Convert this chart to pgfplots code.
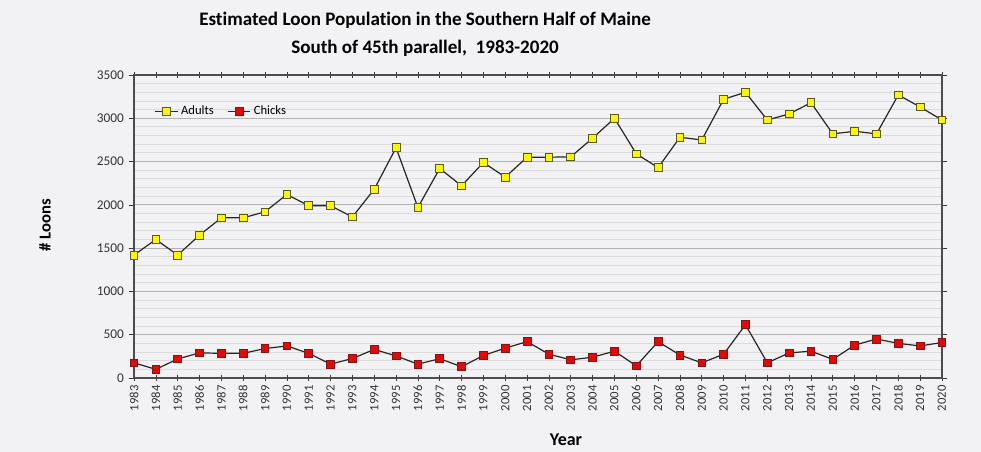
\documentclass[border=0pt]{standalone}
\usepackage{fontspec}
\setmainfont[Ligatures=NoCommon]{Carlito}
\usepackage{pgfplots}
\pgfplotsset{compat=1.18}
\definecolor{bg}{RGB}{242,242,244}
\definecolor{adultfill}{RGB}{250,245,10}
\definecolor{adultdraw}{RGB}{90,90,20}
\definecolor{chickfill}{RGB}{225,10,10}
\definecolor{chickdraw}{RGB}{130,20,20}
\begin{document}
\begin{tikzpicture}[x=1pt,y=1pt]
\fill[bg] (0,0) rectangle (735.75,339);
\useasboundingbox (0,0) rectangle (735.75,339);
\node[font=\fontsize{14.3}{16}\selectfont\bfseries] at (318.75,323.5) {Estimated Loon Population in the Southern Half of Maine};
\node[font=\fontsize{14.3}{16}\selectfont\bfseries] at (318.75,302.5) {South of 45th parallel,\ \ 1983-2020};
\node[font=\fontsize{12.5}{14}\selectfont\bfseries, rotate=90] at (33.75,170) {\# Loons};
\node[font=\fontsize{13.5}{15}\selectfont\bfseries] at (424.5,9) {Year};
\begin{axis}[
  at={(100.5pt,55.5pt)}, anchor=south west,
  scale only axis, width=606pt, height=227.25pt,
  xmin=1983, xmax=2020, ymin=0, ymax=3500,
  xtick={1983,...,2020},
  ytick={0,500,...,3500},
  minor y tick num=4,
  ymajorgrids, yminorgrids,
  major grid style={gray!60, line width=0.7pt},
  minor grid style={gray!28, line width=0.7pt},
  axis line style={gray!60!black, line width=0.8pt},
  x tick style={gray!40!black, line width=0.5pt},
  y tick style={gray!40!black, line width=0.5pt},
  xtick align=center, ytick align=outside,
  major tick length=4pt,
  minor y tick style={draw=none},
  /pgf/number format/assume math mode=true,
  /pgf/number format/1000 sep={},
  x tick label style={rotate=90, anchor=east, font=\fontsize{9.5}{11}\selectfont, text=black!80},
  y tick label style={font=\fontsize{10}{12}\selectfont, text=black!80},
  axis background/.style={fill=bg},
  legend style={at={(0.02,0.88)}, anchor=west, draw=none, fill=none, font=\fontsize{9.5}{11}\selectfont, legend columns=2, /tikz/every even column/.append style={column sep=8pt}},
  legend cell align=left,
]
\addplot[black!85, line width=0.9pt, mark=square*, mark size=2.9pt, mark options={fill=adultfill, draw=adultdraw, line width=0.6pt}] coordinates {
(1983,1420) (1984,1600) (1985,1420) (1986,1650) (1987,1850) (1988,1850) (1989,1920) (1990,2120)
(1991,1990) (1992,1990) (1993,1860) (1994,2180) (1995,2660) (1996,1970) (1997,2420) (1998,2220)
(1999,2490) (2000,2320) (2001,2550) (2002,2550) (2003,2555) (2004,2770) (2005,3000) (2006,2590)
(2007,2430) (2008,2780) (2009,2750) (2010,3220) (2011,3300) (2012,2980) (2013,3050) (2014,3180)
(2015,2820) (2016,2850) (2017,2820) (2018,3270) (2019,3130) (2020,2980)
};
\addlegendentry{Adults}
\addplot[black!85, line width=0.9pt, mark=square*, mark size=2.9pt, mark options={fill=chickfill, draw=chickdraw, line width=0.6pt}] coordinates {
(1983,175) (1984,100) (1985,220) (1986,290) (1987,285) (1988,285) (1989,340) (1990,370)
(1991,285) (1992,160) (1993,225) (1994,330) (1995,255) (1996,160) (1997,223) (1998,130)
(1999,260) (2000,345) (2001,420) (2002,275) (2003,210) (2004,240) (2005,310) (2006,140)
(2007,420) (2008,265) (2009,175) (2010,275) (2011,615) (2012,175) (2013,290) (2014,310)
(2015,215) (2016,380) (2017,450) (2018,400) (2019,370) (2020,410)
};
\addlegendentry{Chicks}
\end{axis}
\end{tikzpicture}
\end{document}
